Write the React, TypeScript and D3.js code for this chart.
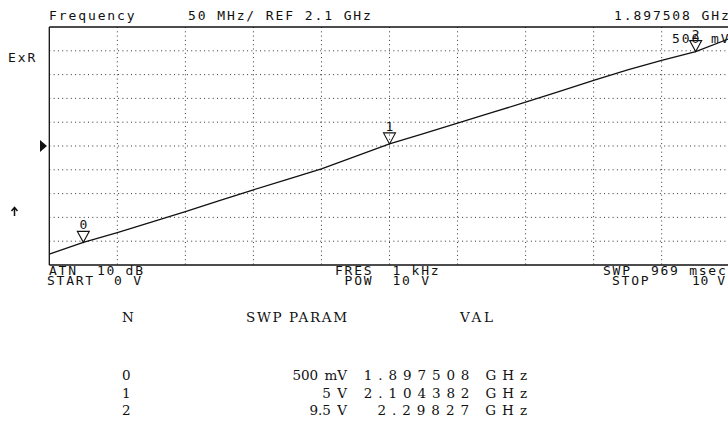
import * as d3 from 'd3';

// sweep parameter (V) and measured frequency (GHz) along the trace
const sweepVolts = [0, 0.5, 1, 1.5, 2, 2.5, 3, 3.5, 4, 4.5, 5, 5.5, 6, 6.5, 7, 7.5, 8, 8.5, 9, 9.5, 10];
const freqGHz = [1.873, 1.8975, 1.918, 1.940, 1.962, 1.985, 2.008, 2.030, 2.052, 2.078, 2.1044, 2.126, 2.148, 2.170, 2.192, 2.215, 2.238, 2.260, 2.280, 2.2983, 2.326];

// markers
const markerIds = ['0', '1', '2'];
const markerVolts = [0.5, 5, 9.5];
const markerFreqGHz = [1.897508, 2.104382, 2.29827];
const markerParamLabels = ['500 mV', '5 V', '9.5 V'];
const markerValLabels = ['1.897508 GHz', '2.104382 GHz', '2.29827 GHz'];

// axis settings
const sweepStart = 0;
const sweepStop = 10;
const refGHz = 2.1;
const perDivGHz = 0.05;

const W = 728;
const H = 425;
const left = 49.3;
const right = 729.7;
const top = 27;
const bottom = 265;

const mono = "'DejaVu Sans Mono', monospace";
const tableFont = "'DejaVu Serif', serif";

export default function App() {
  const x = d3.scaleLinear().domain([sweepStart, sweepStop]).range([left, right]);
  const y = d3.scaleLinear()
    .domain([refGHz - 5 * perDivGHz, refGHz + 5 * perDivGHz])
    .range([bottom, top]);

  const xGrid = d3.range(1, 10).map(i => sweepStart + (i * (sweepStop - sweepStart)) / 10);
  const yGrid = d3.range(1, 10).map(i => refGHz - 5 * perDivGHz + i * perDivGHz);

  const pts = sweepVolts.map((v, i) => [v, freqGHz[i]] as [number, number]);
  const line = d3.line<[number, number]>().x(d => x(d[0])).y(d => y(d[1]));

  const hdr = { fontFamily: mono, fontSize: 13, letterSpacing: 1.9, fill: '#111', whiteSpace: 'pre' } as const;
  const ftr = { fontFamily: mono, fontSize: 13, letterSpacing: 1.75, fill: '#111', whiteSpace: 'pre' } as const;
  const tbl = { fontFamily: tableFont, fontSize: 13.5, fill: '#111', whiteSpace: 'pre' } as const;

  // column pitch of the instrument's value column
  const valPitch = 13.6;
  const rowY = (i: number) => 380 + i * 17.5;

  return (
    <div style={{ position: 'fixed', left: 0, top: 0, width: W, height: H, background: '#fff' }}>
      <svg width={W} height={H} viewBox={`0 0 ${W} ${H}`} style={{ display: 'block' }}>
        <rect width={W} height={H} fill="#fff" />

        {/* dotted graticule */}
        {xGrid.map(v => (
          <line key={'gx' + v} x1={x(v)} x2={x(v)} y1={top} y2={bottom}
            stroke="#333" strokeWidth={1} strokeDasharray="1 3.3" />
        ))}
        {yGrid.map(v => (
          <line key={'gy' + v} x1={left} x2={right} y1={y(v)} y2={y(v)}
            stroke="#333" strokeWidth={1} strokeDasharray="1 3.3" />
        ))}

        {/* frame */}
        <line x1={left} x2={right} y1={top} y2={top} stroke="#111" strokeWidth={1.3} />
        <line x1={left} x2={right} y1={bottom} y2={bottom} stroke="#111" strokeWidth={1.3} />
        <line x1={left} x2={left} y1={top} y2={bottom} stroke="#111" strokeWidth={1.3} />
        <line x1={right} x2={right} y1={top} y2={bottom} stroke="#111" strokeWidth={1.3} />

        {/* trace */}
        <path d={line(pts) || ''} fill="none" stroke="#111" strokeWidth={1.3} />

        {/* markers */}
        {markerIds.map((id, i) => {
          const mx = x(markerVolts[i]);
          const my = y(markerFreqGHz[i]);
          return (
            <g key={'m' + id}>
              <path d={`M${mx - 6},${my - 11} L${mx + 6},${my - 11} L${mx},${my} Z`}
                fill="none" stroke="#111" strokeWidth={1.1} />
              <text x={mx} y={my - 13} textAnchor="middle" style={{ ...hdr, letterSpacing: 0 }}>{id}</text>
            </g>
          );
        })}

        {/* reference position and misc indicators */}
        <path d={`M40,${y(refGHz) - 6} L47,${y(refGHz)} L40,${y(refGHz) + 6} Z`} fill="#111" />
        <path d="M14.5,208 L14.5,216 M11.5,211 L14.5,207.5 L17.5,211" fill="none" stroke="#111" strokeWidth={1.5} />

        {/* header */}
        <text x={49} y={20} style={hdr}>Frequency</text>
        <text x={188} y={20} style={hdr}>50 MHz/ REF 2.1 GHz</text>
        <text x={614} y={20} style={hdr}>1.897508 GHz</text>
        <text x={8} y={62} style={hdr}>ExR</text>
        <text x={672} y={43} style={hdr}>500 mV</text>

        {/* footer */}
        <text x={49} y={275} style={ftr}>ATN  10 dB</text>
        <text x={47} y={285} style={ftr}>START  0 V</text>
        <text x={335} y={275} style={ftr}>FRES  1 kHz</text>
        <text x={344.6} y={285} style={ftr}>POW  10 V</text>
        <text x={603} y={275} style={ftr}>SWP  969 msec</text>
        <text x={612} y={285} style={ftr}>STOP</text>
        <text x={692} y={285} style={{ ...ftr, letterSpacing: 0.6 }}>10 V</text>

        {/* marker table */}
        <text x={122} y={322} style={tbl}>N</text>
        <text x={246} y={322} style={tbl} textLength={101} lengthAdjust="spacing">SWP PARAM</text>
        <text x={460} y={322} style={tbl} textLength={33} lengthAdjust="spacing">VAL</text>
        {markerIds.map((id, i) => (
          <g key={'row' + id}>
            <text x={122} y={rowY(i)} style={tbl}>{id}</text>
            <text x={347} y={rowY(i)} textAnchor="end" style={{ ...tbl, wordSpacing: 2 }}>{markerParamLabels[i]}</text>
            <text x={527} y={rowY(i)} textAnchor="end" style={tbl}
              textLength={markerValLabels[i].length * valPitch} lengthAdjust="spacing">{markerValLabels[i]}</text>
          </g>
        ))}
      </svg>
    </div>
  );
}
